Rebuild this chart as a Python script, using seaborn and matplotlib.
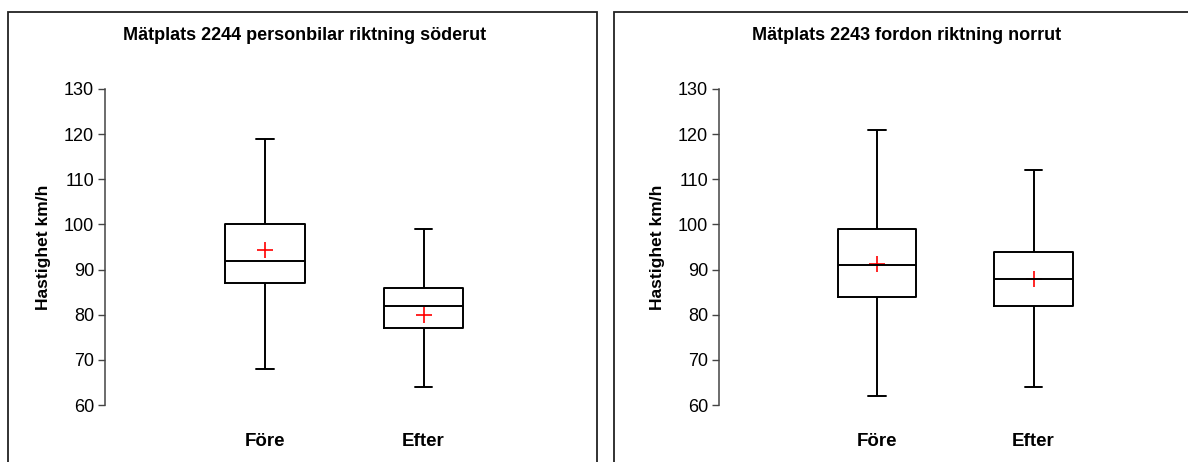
#importing libraries
import numpy as np
import pandas as pd
import matplotlib
matplotlib.use("Agg")
import matplotlib.pyplot as plt
import seaborn as sns
from matplotlib.patches import Rectangle

#values: min, q1, median, q3, max and the mean
groups = ["Före", "Efter"]
titles = ["Mätplats 2244 personbilar riktning söderut",
          "Mätplats 2243 fordon riktning norrut"]

soder_stats = [[68, 87, 92, 100, 119], [64, 77, 82, 86, 99]]
soder_mean = [94.3, 80.0]
norr_stats = [[62, 84, 91, 99, 121], [64, 82, 88, 94, 112]]
norr_mean = [91.2, 88.0]

yticks = [60, 70, 80, 90, 100, 110, 120, 130]

sns.set_style("white")
plt.rcParams['font.family'] = ['Liberation Sans', 'DejaVu Sans']
plt.rcParams['text.color'] = 'black'
plt.rcParams['axes.labelcolor'] = 'black'
plt.rcParams['xtick.color'] = 'black'
plt.rcParams['ytick.color'] = 'black'

fig = plt.figure(figsize=(11.88, 4.62), dpi=100)

#panel frames like the original export
fig.patches.append(Rectangle((8/1188, -0.05), 589/1188, 1.05 - 11.5/462, transform=fig.transFigure,
                             fill=False, edgecolor="#222222", linewidth=1.3))
fig.patches.append(Rectangle((614/1188, -0.05), 600/1188, 1.05 - 11.5/462, transform=fig.transFigure,
                             fill=False, edgecolor="#222222", linewidth=1.3))

def draw_panel(ax, stats, means, title, title_x):
    df = pd.DataFrame({"grupp": np.repeat(groups, 5),
                       "fart": np.concatenate(stats)})
    sns.boxplot(data=df, x="grupp", y="fart", order=groups, whis=(0, 100), width=0.5,
                fill=False, color="black", linewidth=1.4, capwidths=0.11,
                medianprops={"color": "black", "linewidth": 1.4}, ax=ax)
    mdf = pd.DataFrame({"grupp": groups, "fart": means})
    sns.pointplot(data=mdf, x="grupp", y="fart", order=groups, color="red",
                  marker="+", markersize=11, markeredgewidth=1.2, linestyle="none",
                  errorbar=None, ax=ax)
    ax.set_xlim(-1.01, 2.0)
    ax.set_ylim(60, 130)
    ax.set_yticks(yticks)
    ax.set_yticklabels([str(t) for t in yticks], fontsize=13, color="black")
    ax.set_xticks([0, 1])
    ax.set_xticklabels(groups, fontsize=13.5, fontweight="bold", color="black")
    ax.tick_params(axis="x", length=0, pad=20)
    ax.tick_params(axis="y", direction="out", length=5, width=1, color="#444444", left=True, pad=3)
    for s in ["top", "right", "bottom"]:
        ax.spines[s].set_visible(False)
    ax.spines["left"].set_color("#444444")
    ax.spines["left"].set_linewidth(1.1)
    ax.set_xlabel("")
    ax.set_ylabel("Hastighet km/h", fontsize=12.5, fontweight="bold", labelpad=9, color="black")
    ax.patch.set_alpha(0)
    fig.text(title_x, 1 - 36/462, title, ha="center", va="center", fontsize=13,
             fontweight="bold", color="black")

ax1 = fig.add_axes([105/1188, 57/462, 477/1188, 316/462])
draw_panel(ax1, soder_stats, soder_mean, titles[0], 305/1188)

ax2 = fig.add_axes([719/1188, 57/462, 471/1188, 316/462])
draw_panel(ax2, norr_stats, norr_mean, titles[1], 907/1188)

fig.savefig("out.png", dpi=100)
